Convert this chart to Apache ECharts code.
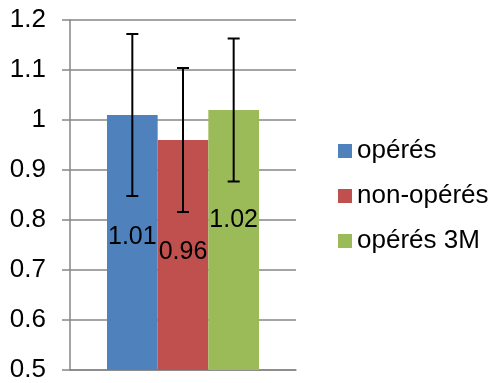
<!DOCTYPE html>
<html>
<head>
<meta charset="utf-8">
<script src="https://cdn.jsdelivr.net/npm/echarts@6/dist/echarts.min.js"></script>
<style>html,body{margin:0;padding:0;background:#fff}#c{width:493px;height:383px}</style>
</head>
<body>
<div id="c"></div>
<script>
var seriesNames = ['opérés', 'non-opérés', 'opérés 3M'];
var seriesValues = [1.01, 0.96, 1.02];
var errorLow = [0.848, 0.816, 0.877];
var errorHigh = [1.172, 1.104, 1.163];
var valueLabels = ['1.01', '0.96', '1.02'];
var yTicks = [0.5, 0.6, 0.7, 0.8, 0.9, 1.0, 1.1, 1.2];

var colors = ['#4F81BD', '#C0504D', '#9BBB59'];
var labelDy = [122, 112, 110];
var FONT = '"Liberation Sans", Arial, sans-serif';
var GAP = 0.3274;

var chart = echarts.init(document.getElementById('c'), null, {renderer: 'canvas'});

var series = [];
seriesNames.forEach(function (name, i) {
  series.push({
    name: name,
    type: 'bar',
    data: [seriesValues[i]],
    barGap: '0%',
    barCategoryGap: (GAP * 100) + '%',
    itemStyle: {color: colors[i]},
    label: {
      show: true,
      position: ['50%', labelDy[i]],
      align: 'center',
      verticalAlign: 'middle',
      formatter: valueLabels[i],
      fontFamily: FONT,
      fontSize: 25,
      color: '#000'
    },
    silent: true,
    animation: false
  });
});

series.push({
  type: 'custom',
  data: seriesNames.map(function (n, i) { return [0, errorLow[i], errorHigh[i], i]; }),
  encode: {x: 0, y: [1, 2]},
  renderItem: function (params, api) {
    var idx = api.value(3);
    var band = api.size([1, 0])[0];
    var bw = band * (1 - GAP) / 3;
    var cx = api.coord([0, api.value(1)])[0] + (idx - 1) * bw;
    var lo = api.coord([0, api.value(1)])[1];
    var hi = api.coord([0, api.value(2)])[1];
    var cap = 6;
    var st = {stroke: '#000', lineWidth: 2};
    return {
      type: 'group',
      children: [
        {type: 'line', shape: {x1: cx, y1: lo, x2: cx, y2: hi}, style: st},
        {type: 'line', shape: {x1: cx - cap, y1: lo, x2: cx + cap, y2: lo}, style: st},
        {type: 'line', shape: {x1: cx - cap, y1: hi, x2: cx + cap, y2: hi}, style: st}
      ]
    };
  },
  z: 10,
  silent: true,
  animation: false
});

chart.setOption({
  animation: false,
  backgroundColor: '#fff',
  grid: {left: 70, right: 197, top: 20, bottom: 13, containLabel: false},
  legend: {
    orient: 'vertical',
    left: 338,
    top: 138,
    padding: 0,
    itemGap: 19,
    itemWidth: 14,
    itemHeight: 14,
    icon: 'rect',
    selectedMode: false,
    data: seriesNames,
    textStyle: {fontFamily: FONT, fontSize: 26, color: '#000', lineHeight: 26}
  },
  xAxis: {
    type: 'category',
    data: [''],
    axisLine: {show: true, lineStyle: {color: '#868686', width: 1.5}},
    axisTick: {show: false},
    axisLabel: {show: false},
    splitLine: {show: false}
  },
  yAxis: {
    type: 'value',
    min: 0.5,
    max: 1.2,
    interval: 0.1,
    axisLine: {show: true, lineStyle: {color: '#868686', width: 1.5}},
    axisTick: {show: true, length: 8, lineStyle: {color: '#868686', width: 1.5}},
    splitLine: {show: true, lineStyle: {color: '#868686', width: 1.5}},
    axisLabel: {
      margin: 24,
      fontFamily: FONT,
      fontSize: 26,
      color: '#000',
      formatter: function (v) {
        var t = yTicks.filter(function (x) { return Math.abs(x - v) < 1e-9; })[0];
        return t === 1 ? '1' : (t !== undefined ? t.toFixed(1) : '');
      }
    }
  },
  series: series
});
</script>
</body>
</html>
